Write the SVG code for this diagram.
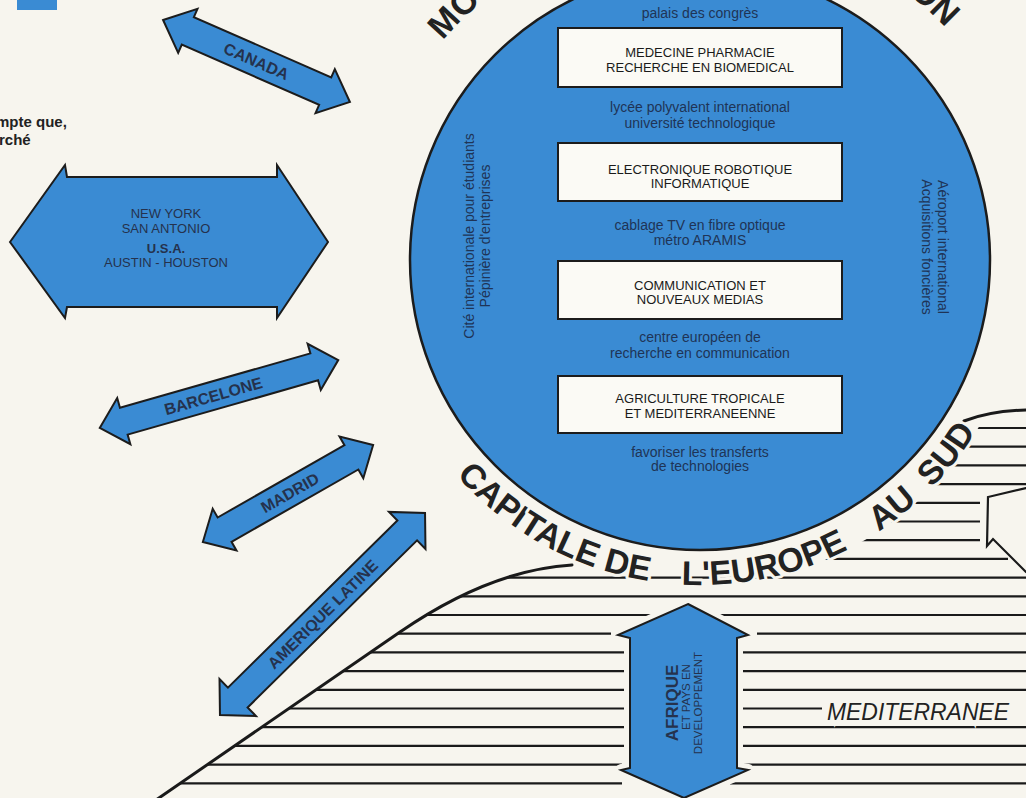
<svg xmlns="http://www.w3.org/2000/svg" width="1026" height="798" viewBox="0 0 1026 798">
<defs>
<style>
.blue{fill:#3a8bd3;stroke:#1c1c1c;stroke-width:2;stroke-linejoin:miter}
.lbl{font-family:"Liberation Sans",Arial,sans-serif;font-weight:bold;font-size:16px;fill:#25324d;text-anchor:middle}
.usa{font-family:"Liberation Sans",Arial,sans-serif;font-size:13px;fill:#25324d;text-anchor:middle}
.hatch line{stroke:#1a1a1a;stroke-width:2.2}
.ctext{font-family:"Liberation Sans",Arial,sans-serif;font-size:14px;fill:#1f3456;text-anchor:middle}
.btext{font-family:"Liberation Sans",Arial,sans-serif;font-size:13px;fill:#1a1a1a;text-anchor:middle}
.box{fill:#fbfaf5;stroke:#1c1c1c;stroke-width:2}
.arc{font-family:"Liberation Sans",Arial,sans-serif;font-weight:bold;font-size:34px;fill:#222;stroke:#f7f5ee;stroke-width:6;paint-order:stroke;stroke-linejoin:round;text-anchor:middle}
.halo{fill:none;stroke:#f7f5ee;stroke-width:12;stroke-linejoin:round}
.edge{fill:none;stroke:#1a1a1a;stroke-width:3;stroke-linecap:round}
.side{font-family:"Liberation Sans",Arial,sans-serif;font-weight:bold;font-size:15px;fill:#222}
</style>
<path id="topArc" d="M362,260 A338,338 0 0 1 1038,260"/>
<path id="botArc" d="M375,260 A325,325 0 0 0 1025,260"/>
<clipPath id="upper"><rect x="0" y="0" width="1026" height="562"/></clipPath>
<mask id="sea" maskUnits="userSpaceOnUse" x="0" y="0" width="1026" height="798">
<path d="M156,800 L400,632 Q490,570 572,565 L572,400 L1026,400 L1026,800 Z" fill="#fff"/>
<circle cx="700" cy="260" r="325" fill="#000" clip-path="url(#upper)"/>
<circle cx="700" cy="260" r="314" fill="#000"/>
</mask>
</defs>
<rect width="1026" height="798" fill="#f7f5ee"/>
<rect x="17" y="0" width="40" height="10" fill="#3a8bd3"/>
<text class="side" x="-4" y="127">mpte que,</text>
<text class="side" x="-1" y="145">rché</text>

<g id="connectors">
<g class="hatch" mask="url(#sea)">
<line x1="880" y1="428" x2="1026" y2="428"/>
<line x1="880" y1="446.7" x2="1026" y2="446.7"/>
<line x1="860" y1="465.4" x2="1026" y2="465.4"/>
<line x1="840" y1="484.1" x2="1026" y2="484.1"/>
<line x1="820" y1="502.8" x2="980" y2="502.8"/>
<line x1="800" y1="521.5" x2="980" y2="521.5"/>
<line x1="780" y1="540.2" x2="980" y2="540.2"/>
<line x1="560" y1="558.9" x2="1008" y2="558.9"/>
<line x1="150" y1="577.6" x2="1026" y2="577.6"/>
<line x1="150" y1="596.3" x2="1026" y2="596.3"/>
<line x1="150" y1="615" x2="653" y2="615"/><line x1="718" y1="615" x2="1026" y2="615"/>
<line x1="150" y1="633.7" x2="611" y2="633.7"/><line x1="757" y1="633.7" x2="1026" y2="633.7"/>
<line x1="150" y1="652.4" x2="624" y2="652.4"/><line x1="742" y1="652.4" x2="1026" y2="652.4"/>
<line x1="150" y1="671.1" x2="624" y2="671.1"/><line x1="742" y1="671.1" x2="1026" y2="671.1"/>
<line x1="150" y1="689.8" x2="624" y2="689.8"/><line x1="742" y1="689.8" x2="1026" y2="689.8"/>
<line x1="150" y1="708.5" x2="624" y2="708.5"/><line x1="742" y1="708.5" x2="822" y2="708.5"/>
<line x1="150" y1="727.2" x2="624" y2="727.2"/><line x1="742" y1="727.2" x2="1026" y2="727.2"/>
<line x1="150" y1="745.9" x2="624" y2="745.9"/><line x1="742" y1="745.9" x2="1026" y2="745.9"/>
<line x1="150" y1="764.6" x2="622" y2="764.6"/><line x1="743" y1="764.6" x2="1026" y2="764.6"/>
<line x1="150" y1="783.3" x2="622" y2="783.3"/><line x1="730" y1="783.3" x2="1026" y2="783.3"/>
</g>
<path class="edge" d="M156,800 L400,632 Q490,570 572,565"/>
<path class="edge" d="M964,421 Q990,411 1026,410"/>
<polyline class="edge" style="stroke-width:2.2;stroke-linejoin:miter" points="1026,488 988,497 987,546 993,539 1026,572"/>
</g>

<g id="mediterranee">
<text x="827" y="720" font-family="'Liberation Sans',Arial,sans-serif" font-style="italic" font-size="24" textLength="182" lengthAdjust="spacingAndGlyphs" fill="#222" stroke="#f7f5ee" stroke-width="6" paint-order="stroke">MEDITERRANEE</text>
</g>

<g id="afrique">
<polygon class="halo" points="688,604 748,635 737,638 737,768 748,770 684,798 621,770 630,768 630,638 618,635"/>
<polygon class="blue" points="688,604 748,635 737,638 737,768 748,770 684,798 621,770 630,768 630,638 618,635"/>
<text transform="translate(678,703) rotate(-90)" font-family="'Liberation Sans',Arial,sans-serif" font-weight="bold" font-size="17" fill="#25324d" text-anchor="middle">AFRIQUE</text>
<text transform="translate(690,697) rotate(-90)" font-family="'Liberation Sans',Arial,sans-serif" font-size="11.5" fill="#25324d" text-anchor="middle">ET PAYS EN</text>
<text transform="translate(702,703) rotate(-90)" font-family="'Liberation Sans',Arial,sans-serif" font-size="11.5" fill="#25324d" text-anchor="middle">DEVELOPPEMENT</text>
</g>

<g id="circle">
<circle cx="700" cy="260" r="290" fill="#3a8bd3" stroke="#1c1c1c" stroke-width="2.5"/>
<text class="ctext" x="700" y="18">palais des congrès</text>
<rect class="box" x="558" y="28" width="284" height="59"/>
<text class="btext" x="700" y="57">MEDECINE PHARMACIE</text>
<text class="btext" x="700" y="72">RECHERCHE EN BIOMEDICAL</text>
<text class="ctext" x="700" y="112">lycée polyvalent international</text>
<text class="ctext" x="700" y="128">université technologique</text>
<rect class="box" x="558" y="143" width="284" height="58"/>
<text class="btext" x="700" y="174">ELECTRONIQUE ROBOTIQUE</text>
<text class="btext" x="700" y="188">INFORMATIQUE</text>
<text class="ctext" x="700" y="230">cablage TV en fibre optique</text>
<text class="ctext" x="700" y="245">métro ARAMIS</text>
<rect class="box" x="558" y="261" width="284" height="58"/>
<text class="btext" x="700" y="290">COMMUNICATION ET</text>
<text class="btext" x="700" y="304">NOUVEAUX MEDIAS</text>
<text class="ctext" x="700" y="342">centre européen de</text>
<text class="ctext" x="700" y="358">recherche en communication</text>
<rect class="box" x="558" y="376" width="284" height="57"/>
<text class="btext" x="700" y="403">AGRICULTURE TROPICALE</text>
<text class="btext" x="700" y="418">ET MEDITERRANEENNE</text>
<text class="ctext" x="700" y="457">favoriser les transferts</text>
<text class="ctext" x="700" y="471">de technologies</text>
<text class="ctext" transform="translate(474,236) rotate(-90)">Cité internationale pour étudiants</text>
<text class="ctext" transform="translate(490,236) rotate(-90)">Pépinière d'entreprises</text>
<text class="ctext" transform="translate(938,247) rotate(90)">Aéroport international</text>
<text class="ctext" transform="translate(922,247) rotate(90)">Acquisitions foncières</text>
</g>

<g id="arc-titles">
<text class="arc"><textPath href="#topArc" startOffset="266">MO</textPath></text>
<text class="arc"><textPath href="#topArc" startOffset="780">ON</textPath></text>
<text class="arc"><textPath href="#botArc" startOffset="319">CAPITALE</textPath></text>
<text class="arc"><textPath href="#botArc" startOffset="435">DE</textPath></text>
<text class="arc"><textPath href="#botArc" startOffset="578">L'EUROPE</textPath></text>
<text class="arc"><textPath href="#botArc" startOffset="724">AU</textPath></text>
<text class="arc"><textPath href="#botArc" startOffset="804">SUD</textPath></text>
</g>

<g id="canada" transform="translate(256.5,61) rotate(23.7)">
<polygon class="blue" points="-102,0 -75,-24 -75,-15 75,-15 75,-24 102,0 75,24 75,15 -75,15 -75,24"/>
<text class="lbl" x="0" y="6">CANADA</text>
</g>
<g id="usa">
<polygon class="blue" points="10,242 65,165 67,177 277,177 277,165 328,242 277,318 277,307 67,307 65,318"/>
<text class="usa" x="166" y="218">NEW YORK</text>
<text class="usa" x="166" y="233">SAN ANTONIO</text>
<text class="usa" x="166" y="253" font-weight="bold" font-size="17">U.S.A.</text>
<text class="usa" x="166" y="267">AUSTIN - HOUSTON</text>
</g>
<g id="barcelone" transform="translate(219,394) rotate(-15.9)">
<polygon class="blue" points="-124,0 -99,-24 -99,-14 99,-14 99,-24 124,0 99,24 99,14 -99,14 -99,24"/>
<text class="lbl" x="-6" y="6">BARCELONE</text>
</g>
<g id="madrid" transform="translate(288,493.5) rotate(-29.7)">
<polygon class="blue" points="-98,0 -73,-24 -73,-14 73,-14 73,-24 98,0 73,24 73,14 -73,14 -73,24"/>
<text class="lbl" x="2" y="6">MADRID</text>
</g>
<g id="amerique" transform="translate(322.5,614) rotate(-44.6)">
<polygon class="blue" points="-144,0 -119,-26 -119,-14 119,-14 119,-26 144,0 119,26 119,14 -119,14 -119,26"/>
<text class="lbl" x="0" y="6">AMERIQUE LATINE</text>
</g>
</svg>
